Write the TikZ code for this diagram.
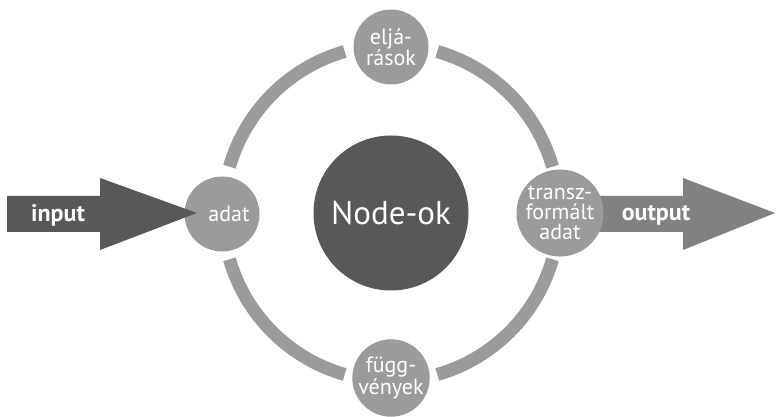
\documentclass[tikz,border=0pt]{standalone}
\usepackage{fontspec}
\setmainfont{PT Sans}
\usetikzlibrary{calc}
\definecolor{ringgray}{HTML}{9B9B9D}
\definecolor{darkgrey}{HTML}{58585A}
\definecolor{outgray}{HTML}{818183}
\begin{document}
\begin{tikzpicture}[x=1pt,y=1pt,
  ring/.style={draw=ringgray, line width=13pt},
  smallnode/.style={circle, fill=ringgray, minimum size=75pt, inner sep=0pt,
    text=white, align=center, font=\fontsize{22}{20}\selectfont},
  arrowlabel/.style={text=white, font=\fontsize{24}{26}\selectfont\bfseries}]
\useasboundingbox (0,0) rectangle (778,417);
\node[circle, fill=darkgrey, minimum size=155pt, inner sep=0pt, text=white,
  font=\fontsize{33}{36}\selectfont] (C) at (391,204) {Node-ok};
\foreach \a/\b in {106/164, 196/254, 286/344, 16/74}
  \draw[ring] ([shift={(\a:168)}]C.center) arc[start angle=\a, end angle=\b, radius=168];
% output arrow (behind the right node)
\fill[outgray] (590,221) -- (683,221) -- (683,239) -- (775,204) -- (683,167) -- (683,185) -- (590,185) -- cycle;
\node[arrowlabel] (out) at (656,202) {output};
\node[smallnode] (top) at (391,370) {eljá-\\rások};
\node[smallnode] (bot) at (391,39) {függ-\\vények};
\node[smallnode] (adat) at (222,203) {\hspace*{14pt}adat};
\node[smallnode] (tr) at (560,204) {transz-\\formált\\adat};
% input arrow (over the left node)
\fill[darkgrey] (7,221) -- (100,221) -- (100,239) -- (197,204) -- (100,167) -- (100,185) -- (7,185) -- cycle;
\node[arrowlabel] (in) at (58,202) {input};
\end{tikzpicture}
\end{document}
